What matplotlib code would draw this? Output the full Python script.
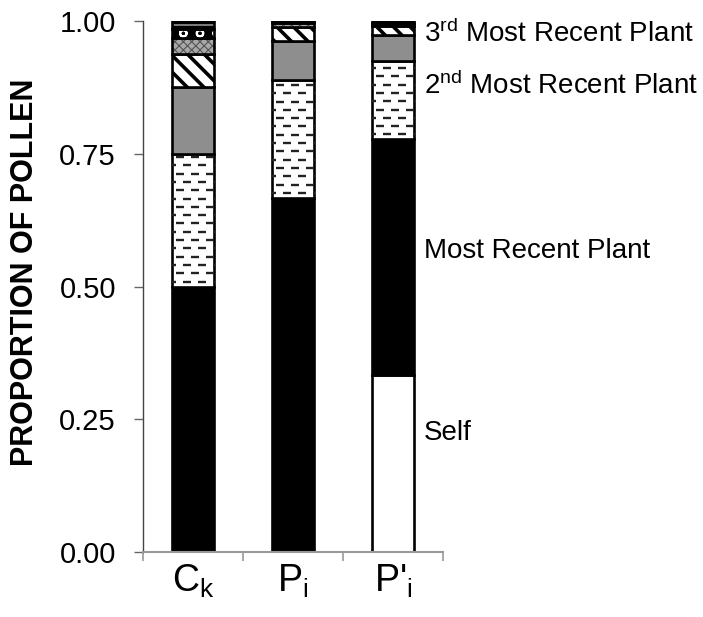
import numpy as np
import matplotlib
import matplotlib.pyplot as plt

matplotlib.use("Agg")

plt.rcParams["font.family"] = ["Liberation Sans", "DejaVu Sans"]
plt.rcParams["mathtext.fontset"] = "custom"
plt.rcParams["mathtext.rm"] = "Liberation Sans"
plt.rcParams["mathtext.it"] = "Liberation Sans:italic"
plt.rcParams["mathtext.bf"] = "Liberation Sans:bold"

# bar groups (x tick labels)
groups = [r"C$_{\mathregular{k}}$", r"P$_{\mathregular{i}}$", r"P'$_{\mathregular{i}}$"]

# pollen share per source, bottom to top of each stacked bar
self_pollen = [0.000, 0.000, 0.333]
recent_1 = [0.500, 0.667, 0.444]
recent_2 = [0.250, 0.222, 0.148]
recent_3 = [0.125, 0.074, 0.049]
recent_4 = [0.062, 0.025, 0.016]
recent_5 = [0.031, 0.008, 0.005]
recent_6 = [0.016, 0.003, 0.002]
older = [0.016, 0.001, 0.003]

layers = [self_pollen, recent_1, recent_2, recent_3, recent_4, recent_5, recent_6, older]

# labels to the right of the last bar (text, y position)
side_labels = ["Self", "Most Recent Plant",
               r"2$^{\mathregular{nd}}$ Most Recent Plant",
               r"3$^{\mathregular{rd}}$ Most Recent Plant"]
side_label_y = [0.224, 0.566, 0.878, 0.976]

y_ticks = [0.0, 0.25, 0.5, 0.75, 1.0]

# fill styles: face colour, hatch, hatch colour, hatch width, dashed texture
styles = [
    dict(face="white", hatch=None, hc="black", hlw=1.0, dashes=False),
    dict(face="black", hatch=None, hc="black", hlw=1.0, dashes=False),
    dict(face="white", hatch=None, hc="black", hlw=1.0, dashes=True),
    dict(face="#8e8e8e", hatch=None, hc="black", hlw=1.0, dashes=False),
    dict(face="white", hatch="\\\\", hc="black", hlw=2.6, dashes=False),
    dict(face="#a8a8a8", hatch="xxxx", hc="#555555", hlw=0.8, dashes=False),
    dict(face="black", hatch="o", hc="white", hlw=1.5, dashes=False),
    dict(face="black", hatch="-", hc="#dddddd", hlw=0.8, dashes=False),
]

fig = plt.figure(figsize=(7.03, 6.17), dpi=100)
ax = fig.add_axes([143 / 703, 65 / 617, 300 / 703, 531 / 617])
ax.set_xlim(0, len(groups))
ax.set_ylim(0, 1)

px_per_y = ax.bbox.height / 1.0
px_per_x = ax.bbox.width / len(groups)
row_step = 8.3 / px_per_y
dash_period = 15.0 / px_per_x

x = np.arange(len(groups)) + 0.5
width = 0.42
bottom = np.zeros(len(groups))
for vals, st in zip(layers, styles):
    vals = np.asarray(vals, dtype=float)
    with plt.rc_context({"hatch.linewidth": st["hlw"]}):
        fill = ax.bar(x, vals, width, bottom=bottom, color=st["face"],
                      hatch=st["hatch"], edgecolor=st["hc"], linewidth=0)
    for rect in fill:
        if hasattr(rect, "set_hatch_linewidth"):
            rect.set_hatch_linewidth(st["hlw"])
    ax.bar(x, vals, width, bottom=bottom, fill=False,
           edgecolor="black", linewidth=1.9)
    if st["dashes"]:
        for rect, b, v in zip(fill, bottom, vals):
            if v <= 0:
                continue
            x0 = rect.get_x()
            x1 = x0 + rect.get_width()
            rows = np.arange(b + row_step * 0.6, b + v, row_step)
            for k, yr in enumerate(rows):
                shift = 0.0 if k % 2 == 0 else dash_period / 2
                xs = np.arange(x0 - dash_period + shift, x1 + dash_period, dash_period)
                ln, = ax.plot(xs, np.full(len(xs), yr), ls="none", marker="_",
                              ms=5.5, mew=1.7, color="#222222")
                ln.set_clip_path(rect)
    bottom += vals

for txt, yv in zip(side_labels, side_label_y):
    ax.text(2.81, yv, txt, ha="left", va="center", fontsize=20, clip_on=False)

ax.spines["top"].set_visible(False)
ax.spines["right"].set_visible(False)
ax.spines["left"].set_color("#444444")
ax.spines["left"].set_linewidth(1.0)
ax.spines["bottom"].set_color("#999999")
ax.spines["bottom"].set_linewidth(1.5)

ax.set_yticks(y_ticks)
ax.set_yticklabels([f"{t:.2f}" for t in y_ticks])
ax.tick_params(axis="y", direction="out", length=6.5, width=1.0, color="#666666",
               pad=13, labelsize=21)

ax.set_xticks(np.arange(len(groups) + 1))
ax.set_xticklabels([])
ax.tick_params(axis="x", which="major", direction="out", length=6.5, width=1.2,
               color="#999999")
ax.set_xticks(x, minor=True)
ax.set_xticklabels(groups, minor=True)
ax.tick_params(axis="x", which="minor", length=0, pad=8, labelsize=27)

ax.set_ylabel("PROPORTION OF POLLEN", fontsize=22, fontweight="bold")
ax.yaxis.set_label_coords(-0.343, 0.526)

fig.savefig("out.png", dpi=100)
